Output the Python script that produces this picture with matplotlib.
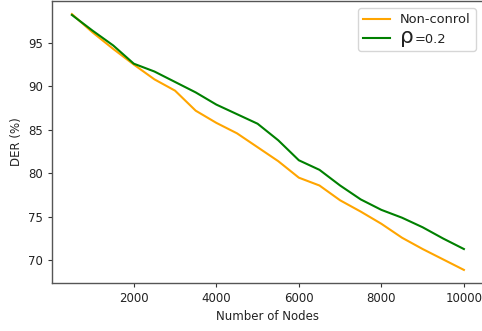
import matplotlib
matplotlib.use("Agg")
import matplotlib.pyplot as plt

nodes = [500, 1000, 1500, 2000, 2500, 3000, 3500, 4000, 4500, 5000,
         5500, 6000, 6500, 7000, 7500, 8000, 8500, 9000, 9500, 10000]
non_control = [98.3, 96.2, 94.3, 92.5, 90.8, 89.5, 87.2, 85.8, 84.6, 83.0,
               81.4, 79.5, 78.6, 76.9, 75.6, 74.2, 72.6, 71.3, 70.1, 68.9]
rho_02 = [98.2, 96.4, 94.7, 92.6, 91.7, 90.5, 89.3, 87.9, 86.8, 85.7,
          83.8, 81.5, 80.4, 78.6, 77.0, 75.8, 74.9, 73.8, 72.5, 71.3]
labels = ["Non-conrol", "    =0.2"]
rho_symbol = "ρ"
rho_suffix = "=0.2"

W, H, DPI = 482, 331, 100
plt.rcParams['font.family'] = ['DejaVu Sans']
plt.rcParams['font.size'] = 8.5
fig = plt.figure(figsize=(W / DPI, H / DPI), dpi=DPI)
ax = fig.add_axes([52.3 / W, (H - 282.7) / H, (483.5 - 52.3) / W, (282.7 - 1.3) / H])

ax.plot(nodes, non_control, color='orange', lw=1.5, label=labels[0])
ax.plot(nodes, rho_02, color='green', lw=1.5, label=labels[1])

ax.set_xlabel("Number of Nodes", fontsize=8.5, color='#222222')
ax.set_ylabel("DER (%)", fontsize=8.5, color='#222222')
ax.set_xticks([2000, 4000, 6000, 8000, 10000])
ax.set_yticks([70, 75, 80, 85, 90, 95])
ax.tick_params(labelsize=8.5, length=3, width=0.8, colors='#333333', labelcolor='#222222')
for s in ax.spines.values():
    s.set_color('#555555')
    s.set_linewidth(1.0)

leg = ax.legend(loc='upper right', fontsize=9.4,
                bbox_to_anchor=(476 / W, 1 - 8 / H), bbox_transform=fig.transFigure,
                borderaxespad=0, framealpha=0.8, edgecolor='#cccccc',
                handlelength=2.0, handletextpad=0.8)
for txt in leg.get_texts():
    txt.set_color('#222222')

fig.canvas.draw()
t = leg.get_texts()[1]
x0, y0 = t.get_transform().transform(t.get_position())
t.set_visible(False)
rt = fig.text(x0 / W, y0 / H + 0.0, rho_symbol, fontsize=15.5,
              ha='left', va='baseline', color='#222222')
fig.canvas.draw()
rb = rt.get_window_extent()
fig.text((rb.x1 + 0.5) / W, y0 / H, rho_suffix, fontsize=9.4,
         ha='left', va='baseline', color='#222222')

fig.savefig("out.png", dpi=DPI)
